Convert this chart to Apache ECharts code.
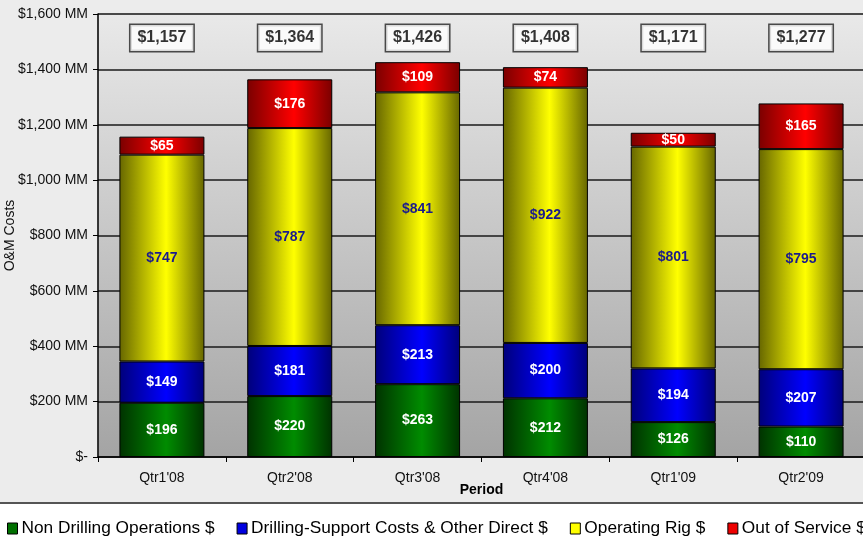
<!DOCTYPE html>
<html>
<head>
<meta charset="utf-8">
<script src="https://cdn.jsdelivr.net/npm/echarts@6/dist/echarts.min.js"></script>
<style>
  html, body { margin: 0; padding: 0; background: #ececec; }
  #chart { width: 863px; height: 551px; }
</style>
</head>
<body>
<div id="chart"></div>
<script>
// Quarterly O&M cost breakdown, $MM
const periods = ["Qtr1'08", "Qtr2'08", "Qtr3'08", "Qtr4'08", "Qtr1'09", "Qtr2'09"];
const nonDrilling = [196, 220, 263, 212, 126, 110];
const drillingSupport = [149, 181, 213, 200, 194, 207];
const operatingRig = [747, 787, 841, 922, 801, 795];
const outOfService = [65, 176, 109, 74, 50, 165];
const yTicks = [0, 200, 400, 600, 800, 1000, 1200, 1400, 1600];

const totals = periods.map((_, i) =>
  nonDrilling[i] + drillingSupport[i] + operatingRig[i] + outOfService[i]);

const money = v => '$' + v.toLocaleString('en-US');

function cylinder(dark, bright) {
  return new echarts.graphic.LinearGradient(0, 0, 1, 0, [
    { offset: 0, color: dark },
    { offset: 0.55, color: bright },
    { offset: 1, color: dark }
  ]);
}

const FONT = '"Liberation Sans", Arial, sans-serif';

const SERIES_DEF = [
  { name: 'Non Drilling Operations $', data: nonDrilling, dark: '#003200', bright: '#008c00', flat: '#007000', text: '#ffffff' },
  { name: 'Drilling-Support Costs & Other Direct $', data: drillingSupport, dark: '#00007a', bright: '#0000ff', flat: '#0000e0', text: '#ffffff' },
  { name: 'Operating Rig $', data: operatingRig, dark: '#666600', bright: '#ffff00', flat: '#ffff00', text: '#1a1a8c' },
  { name: 'Out of Service $', data: outOfService, dark: '#7a0000', bright: '#ff0000', flat: '#ee0000', text: '#ffffff' }
];

function segment(d) {
  return {
    name: d.name,
    type: 'bar',
    stack: 'cost',
    barWidth: '66.5%',
    data: d.data,
    itemStyle: { color: cylinder(d.dark, d.bright), borderColor: '#000', borderWidth: 1 },
    label: {
      show: true,
      position: 'inside',
      formatter: p => money(p.value),
      color: d.text,
      fontFamily: FONT,
      fontWeight: 'bold',
      fontSize: 14
    },
    emphasis: { disabled: true }
  };
}

const chart = echarts.init(document.getElementById('chart'), null, { renderer: 'canvas' });

chart.setOption({
  animation: false,
  backgroundColor: '#ececec',
  textStyle: { fontFamily: FONT },
  graphic: [
    { type: 'rect', left: 0, top: 503, shape: { width: 863, height: 48 }, style: { fill: '#ffffff' }, z: -10 },
    { type: 'line', shape: { x1: 0, y1: 503, x2: 863, y2: 503 }, style: { stroke: '#555', lineWidth: 2 }, z: -9 }
  ],
  grid: {
    left: 98, top: 14, width: 767, bottom: 94,
    outerBoundsMode: 'none',
    containLabel: false,
    show: true,
    borderColor: '#c4c4c4', borderWidth: 1,
    backgroundColor: new echarts.graphic.LinearGradient(0, 0, 0, 1, [
      { offset: 0, color: '#e9e9e9' },
      { offset: 1, color: '#a4a4a4' }
    ])
  },
  legend: {
    left: 2, top: 515, width: 1200,
    itemWidth: 10, itemHeight: 11, itemGap: 22,
    icon: 'rect',
    textStyle: { fontSize: 17.3, color: '#000', fontFamily: FONT, padding: [0, 0, 0, -1] },
    data: SERIES_DEF.map(d => ({
      name: d.name,
      itemStyle: { color: d.flat, borderColor: '#000', borderWidth: 1 }
    }))
  },
  xAxis: {
    type: 'category',
    data: periods,
    name: 'Period',
    nameLocation: 'middle',
    nameGap: 26,
    nameMoveOverlap: false,
    nameTextStyle: { fontWeight: 'bold', fontSize: 14, color: '#000' },
    axisLine: { lineStyle: { color: '#000', width: 1.5 } },
    axisTick: { show: true, length: 5, lineStyle: { color: '#000' } },
    axisLabel: { color: '#111', fontSize: 14, margin: 14 }
  },
  yAxis: {
    type: 'value',
    min: 0, max: 1600, interval: 200,
    name: 'O&M Costs',
    nameLocation: 'middle',
    nameRotate: 90,
    nameGap: 81,
    nameMoveOverlap: false,
    nameTextStyle: { fontSize: 14, color: '#111' },
    axisLine: { show: true, lineStyle: { color: '#000', width: 1.5 } },
    axisTick: { show: true, length: 5, lineStyle: { color: '#000' } },
    axisLabel: {
      color: '#111', fontSize: 14, margin: 10,
      formatter: v => yTicks.includes(v) ? (v === 0 ? '$-' : money(v) + ' MM') : ''
    },
    splitLine: { show: true, lineStyle: { color: '#1a1a1a', width: 1.5 } }
  },
  series: SERIES_DEF.map(segment).concat([
    {
      name: 'Total',
      type: 'scatter',
      symbolSize: 1,
      itemStyle: { color: 'rgba(0,0,0,0)' },
      data: totals.map((t, i) => ({ value: [periods[i], 1513], total: t })),
      label: {
        show: true,
        position: 'inside',
        formatter: p => money(p.data.total),
        color: '#000',
        fontFamily: FONT,
        fontWeight: 'bold',
        fontSize: 16,
        backgroundColor: '#ffffff',
        borderColor: '#222',
        borderWidth: 1.5,
        padding: [5, 7, 5, 7]
      },
      emphasis: { disabled: true },
      z: 10
    }
  ])
});
</script>
</body>
</html>
